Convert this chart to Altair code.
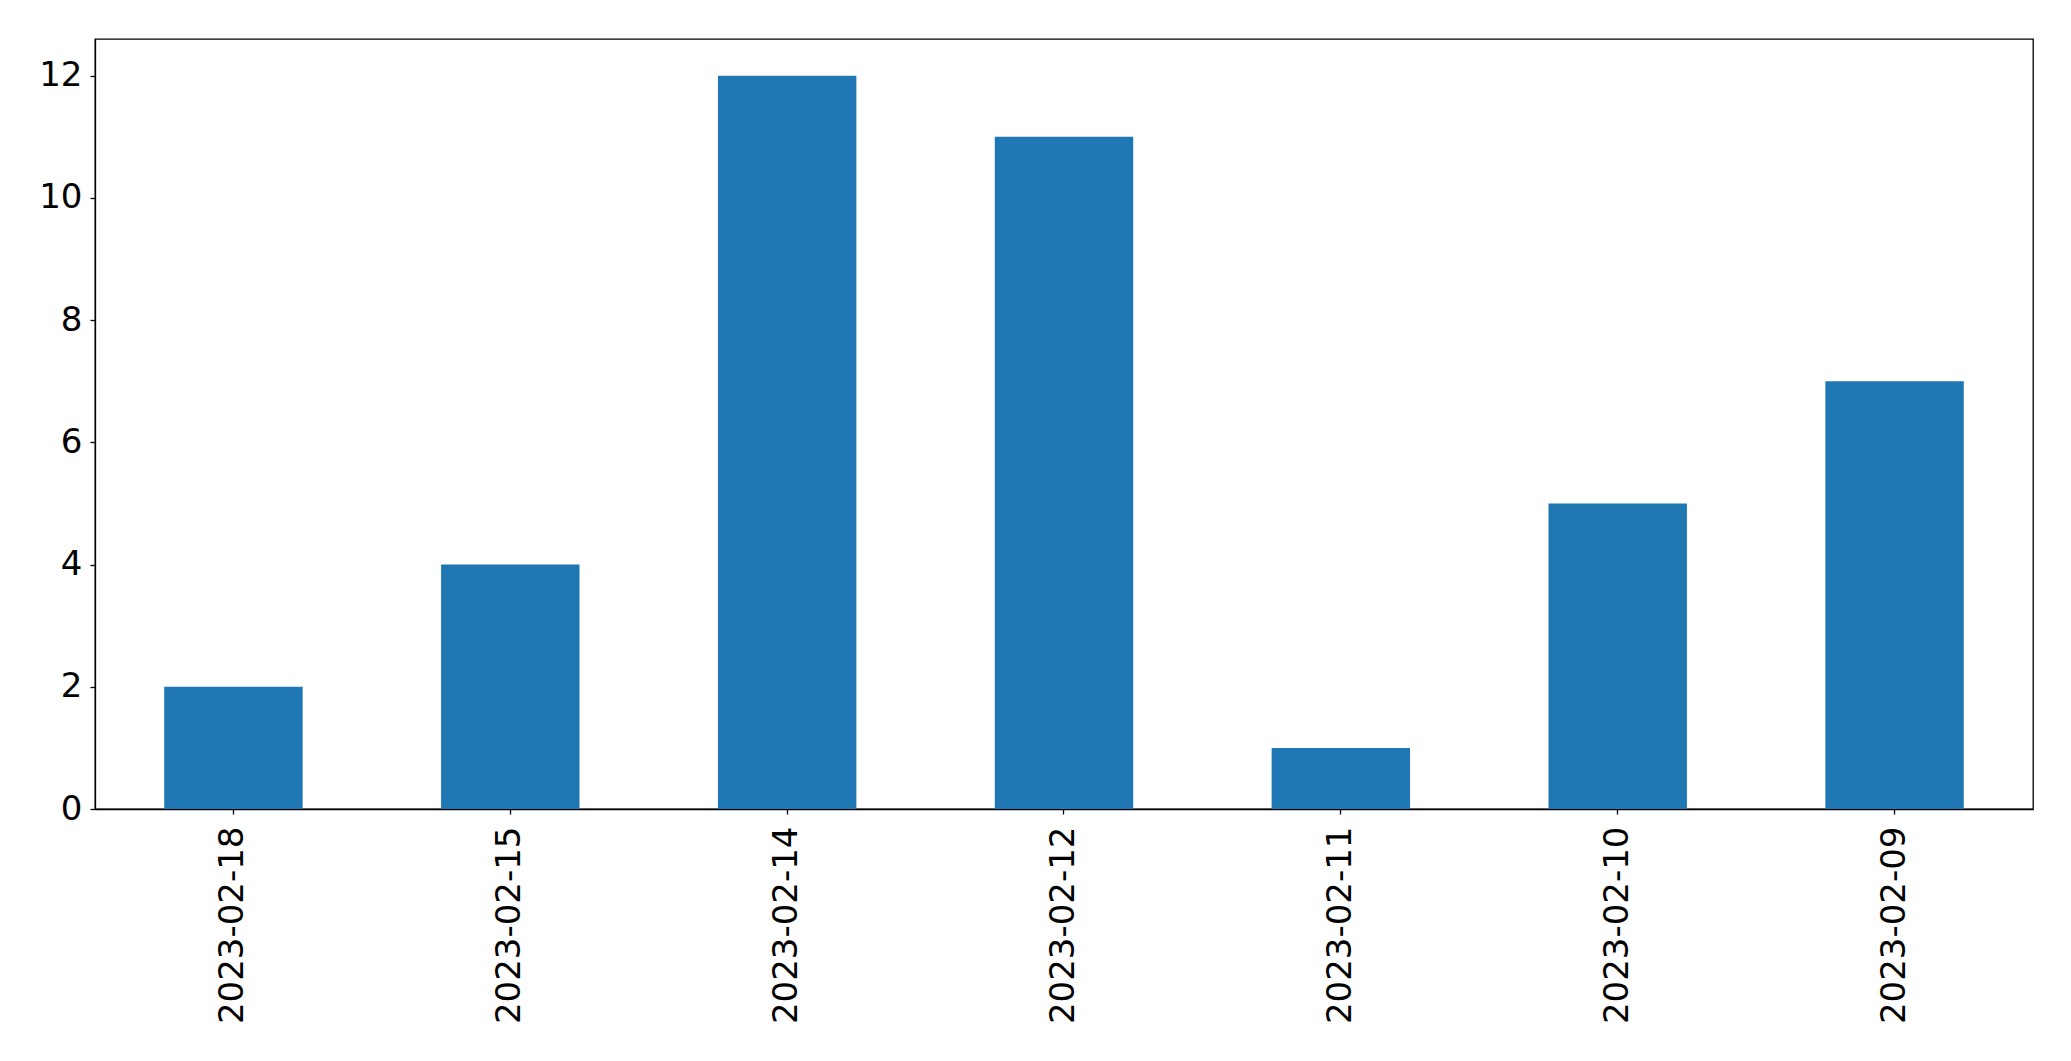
import altair as alt
import pandas as pd

dates = ["2023-02-18", "2023-02-15", "2023-02-14", "2023-02-12",
         "2023-02-11", "2023-02-10", "2023-02-09"]
counts = [2, 4, 12, 11, 1, 5, 7]
y_ticks = [0, 2, 4, 6, 8, 10, 12]

df = pd.DataFrame({"date": dates, "count": counts})

chart = alt.Chart(df).mark_bar(color="#1f77b4").encode(
    x=alt.X("date:N", sort=None, title=None,
            scale=alt.Scale(paddingInner=0.5, paddingOuter=0.25),
            axis=alt.Axis(labelAngle=-90, labelFontSize=34, labelFont="DejaVu Sans",
                          labelColor="black", tickColor="black", domainColor="black",
                          tickSize=5, labelPadding=12, labelAlign="right",
                          labelBaseline="middle", labelLimit=1000)),
    y=alt.Y("count:Q", title=None,
            scale=alt.Scale(domain=[0, 12.6], nice=False, zero=True),
            axis=alt.Axis(values=y_ticks, grid=False, labelFontSize=34,
                          labelFont="DejaVu Sans", labelColor="black",
                          tickColor="black", domainColor="black", tickSize=5,
                          labelPadding=8)),
).properties(
    width=1938, height=770,
    padding={"left": 30, "top": 31, "right": 5, "bottom": 5},
).configure_view(
    stroke="black", strokeWidth=1.3
).configure_axis(
    domainWidth=1.3, tickWidth=1.3
)

chart.save("out.html", embed_options={"renderer": "svg", "actions": False})
